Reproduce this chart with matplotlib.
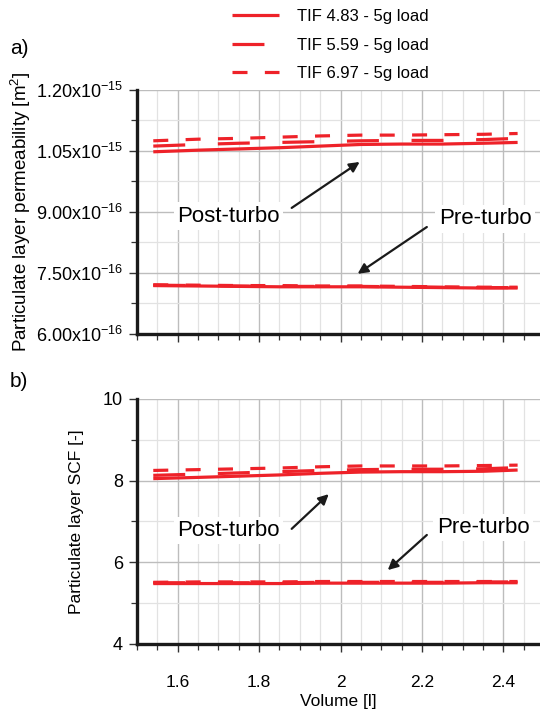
import matplotlib
matplotlib.use("Agg")
import matplotlib.pyplot as plt
from matplotlib.ticker import MultipleLocator, FixedLocator, FixedFormatter

plt.rcParams['font.family'] = ['Liberation Sans', 'DejaVu Sans']
plt.rcParams['mathtext.default'] = 'regular'
plt.rcParams['lines.scale_dashes'] = False

# ---------------- data ----------------
volume = [1.54, 1.65, 1.75, 1.85, 1.95, 2.05, 2.15, 2.25, 2.35, 2.435]

labels = ["TIF 4.83 - 5g load", "TIF 5.59 - 5g load", "TIF 6.97 - 5g load"]

# permeability [m^2]
perm_post_483 = [1.048e-15, 1.052e-15, 1.055e-15, 1.058e-15, 1.062e-15, 1.066e-15, 1.067e-15, 1.067e-15, 1.069e-15, 1.071e-15]
perm_post_559 = [1.062e-15, 1.066e-15, 1.069e-15, 1.071e-15, 1.073e-15, 1.075e-15, 1.076e-15, 1.076e-15, 1.078e-15, 1.081e-15]
perm_post_697 = [1.075e-15, 1.079e-15, 1.081e-15, 1.084e-15, 1.087e-15, 1.089e-15, 1.089e-15, 1.090e-15, 1.091e-15, 1.093e-15]
perm_pre_483 = [7.19e-16, 7.18e-16, 7.17e-16, 7.16e-16, 7.16e-16, 7.16e-16, 7.15e-16, 7.14e-16, 7.13e-16, 7.13e-16]
perm_pre_559 = [7.20e-16, 7.19e-16, 7.18e-16, 7.17e-16, 7.17e-16, 7.17e-16, 7.16e-16, 7.15e-16, 7.14e-16, 7.14e-16]
perm_pre_697 = [7.21e-16, 7.20e-16, 7.19e-16, 7.19e-16, 7.18e-16, 7.18e-16, 7.17e-16, 7.16e-16, 7.15e-16, 7.15e-16]

# SCF [-]
scf_post_483 = [8.05, 8.08, 8.11, 8.14, 8.18, 8.21, 8.22, 8.22, 8.23, 8.26]
scf_post_559 = [8.13, 8.16, 8.19, 8.22, 8.25, 8.27, 8.28, 8.28, 8.29, 8.32]
scf_post_697 = [8.25, 8.27, 8.29, 8.31, 8.34, 8.36, 8.36, 8.36, 8.37, 8.38]
scf_pre_483 = [5.48, 5.48, 5.48, 5.48, 5.49, 5.49, 5.49, 5.49, 5.50, 5.50]
scf_pre_559 = [5.50, 5.50, 5.50, 5.50, 5.51, 5.51, 5.51, 5.51, 5.52, 5.52]
scf_pre_697 = [5.51, 5.52, 5.52, 5.52, 5.53, 5.53, 5.53, 5.53, 5.53, 5.53]

x_ticks = [1.6, 1.8, 2.0, 2.2, 2.4]
x_ticklabels = ["1.6", "1.8", "2", "2.2", "2.4"]
perm_ticks = [6.0e-16, 7.5e-16, 9.0e-16, 1.05e-15, 1.20e-15]
perm_ticklabels = ["6.00x10$^{-16}$", "7.50x10$^{-16}$", "9.00x10$^{-16}$",
                   "1.05x10$^{-15}$", "1.20x10$^{-15}$"]
scf_ticks = [4, 6, 8, 10]
scf_ticklabels = ["4", "6", "8", "10"]

# ---------------- styling ----------------
red = "#ee2229"
lw = 2.3
dash_styles = [None, (0, (23, 23.5)), (0, (10.8, 12.5))]

fig = plt.figure(figsize=(5.40, 7.13), dpi=100)
ax1 = fig.add_axes([0.2537, 0.5316, 0.7463, 0.3422])
ax2 = fig.add_axes([0.2537, 0.0968, 0.7463, 0.3436])


def style_axes(ax):
    ax.set_xlim(1.5, 2.49)
    ax.xaxis.set_major_locator(FixedLocator(x_ticks))
    ax.xaxis.set_minor_locator(MultipleLocator(0.05))
    for s in ['top', 'right']:
        ax.spines[s].set_visible(False)
    for s in ['left', 'bottom']:
        ax.spines[s].set_linewidth(2.4)
        ax.spines[s].set_color('#1a1a1a')
    ax.grid(which='major', color='#bdbdbd', lw=1.0)
    ax.grid(which='minor', color='#e2e2e2', lw=0.9)
    ax.set_axisbelow(True)
    ax.tick_params(which='major', direction='out', length=6, width=1.0, color='#333333',
                   labelsize=13, pad=4)
    ax.tick_params(which='minor', direction='out', length=4, width=0.9, color='#333333')


def plot_series(ax, groups):
    for g in groups:
        for vals, ds, lab in zip(g, dash_styles, labels):
            kw = dict(color=red, lw=lw, solid_capstyle='butt', dash_capstyle='butt')
            if ds is not None:
                kw['linestyle'] = ds
            ax.plot(volume, vals, label=lab, **kw)


style_axes(ax1)
plot_series(ax1, [(perm_post_483, perm_post_559, perm_post_697),
                  (perm_pre_483, perm_pre_559, perm_pre_697)])
ax1.set_ylim(6.0e-16, 1.2e-15)
ax1.yaxis.set_major_locator(FixedLocator(perm_ticks))
ax1.yaxis.set_major_formatter(FixedFormatter(perm_ticklabels))
ax1.yaxis.set_minor_locator(MultipleLocator(7.5e-17))
ax1.tick_params(axis='x', labelbottom=False)
ax1.set_ylabel("Particulate layer permeability [m$^2$]", fontsize=13.5, labelpad=2)

style_axes(ax2)
plot_series(ax2, [(scf_post_483, scf_post_559, scf_post_697),
                  (scf_pre_483, scf_pre_559, scf_pre_697)])
ax2.set_ylim(4, 10)
ax2.yaxis.set_major_locator(FixedLocator(scf_ticks))
ax2.yaxis.set_major_formatter(FixedFormatter(scf_ticklabels))
ax2.yaxis.set_minor_locator(MultipleLocator(1))
ax2.xaxis.set_major_formatter(FixedFormatter(x_ticklabels))
ax2.tick_params(axis='x', labelsize=12.5, pad=16)
ax2.set_xlabel("Volume [l]", fontsize=12.5, labelpad=3)
ax2.set_ylabel("Particulate layer SCF [-]", fontsize=12.5, labelpad=14)

# annotations
box = dict(boxstyle='square,pad=0.15', fc='white', ec='none')
arrow = dict(arrowstyle='-|>', color='#1a1a1a', lw=1.6, mutation_scale=15, shrinkA=0, shrinkB=0)

ax1.annotate("", xy=(2.047, 1.023e-15), xytext=(1.88, 9.10e-16), arrowprops=arrow)
ax1.text(1.725, 8.90e-16, "Post-turbo", fontsize=16, ha='center', va='center', bbox=box)
ax1.annotate("", xy=(2.042, 7.48e-16), xytext=(2.212, 8.63e-16), arrowprops=arrow)
ax1.text(2.355, 8.83e-16, "Pre-turbo", fontsize=16, ha='center', va='center', bbox=box)

ax2.annotate("", xy=(1.971, 7.67), xytext=(1.88, 6.82), arrowprops=arrow)
ax2.text(1.725, 6.78, "Post-turbo", fontsize=16, ha='center', va='center', bbox=box)
ax2.annotate("", xy=(2.116, 5.81), xytext=(2.212, 6.67), arrowprops=arrow)
ax2.text(2.35, 6.85, "Pre-turbo", fontsize=16, ha='center', va='center', bbox=box)

# panel labels
fig.text(0.018, 0.932, "a)", fontsize=15, va='center')
fig.text(0.018, 0.465, "b)", fontsize=15, va='center')

# legend
handles, labs = ax1.get_legend_handles_labels()
fig.legend(handles[:3], labs[:3], loc='upper center', bbox_to_anchor=(0.612, 1.008),
           frameon=False, fontsize=12, handlelength=2.8, handletextpad=1.1,
           labelspacing=0.8)

fig.savefig("out.png", dpi=100)
